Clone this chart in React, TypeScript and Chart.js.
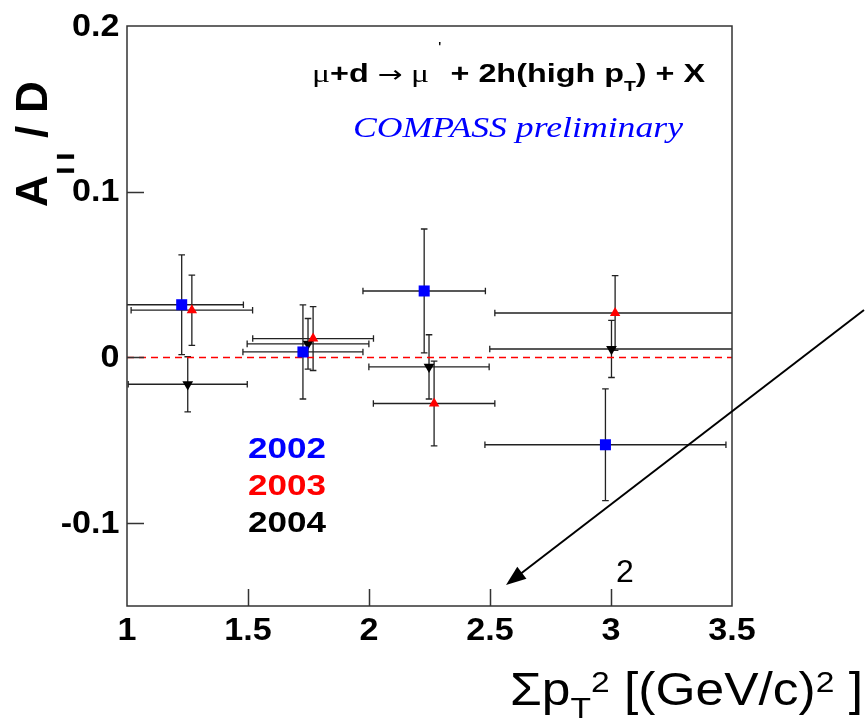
import React, { useEffect, useRef } from "react";
import { Chart, registerables } from "chart.js";

Chart.register(...registerables);

const SANS = '"Liberation Sans", Arial, Helvetica, sans-serif';
const SERIF = '"Liberation Serif", "Times New Roman", serif';

// axis ranges and ticks
const xMin = 1;
const xMax = 3.5;
const yMin = -0.15;
const yMax = 0.2;
const xTickValues = [1, 1.5, 2, 2.5, 3, 3.5];
const yTickValues = [-0.1, 0, 0.1, 0.2];

// 2002
const x2002 = [1.226, 1.727, 2.228, 2.977];
const y2002 = [0.0318, 0.0033, 0.0401, -0.0527];
const xErr2002 = [0.255, 0.248, 0.253, 0.498];
const yErr2002 = [0.0301, 0.0284, 0.0374, 0.0337];

// 2003
const x2003 = [1.268, 1.769, 2.269, 3.017];
const y2003 = [0.0285, 0.0114, -0.0278, 0.0268];
const xErr2003 = [0.251, 0.2495, 0.251, 0.497];
const yErr2003 = [0.0212, 0.0193, 0.0256, 0.0226];

// 2004
const x2004 = [1.251, 1.748, 2.248, 3.002];
const y2004 = [-0.0162, 0.0082, -0.0057, 0.0051];
const xErr2004 = [0.246, 0.2515, 0.2485, 0.503];
const yErr2004 = [0.0166, 0.0153, 0.0194, 0.0172];

const legendYears = ["2002", "2003", "2004"];
const zeroLine = [0];

const BLUE = "#0000ff";
const RED = "#ff0000";
const BLACK = "#000000";
const FRAME = "#333333";
const ERR = "#222222";

type Seg = { t: string; f: string; dy?: number };

function segWidth(ctx: CanvasRenderingContext2D, segs: Seg[]) {
  let w = 0;
  for (const s of segs) {
    ctx.font = s.f;
    w += ctx.measureText(s.t).width;
  }
  return w;
}

function drawSegs(
  ctx: CanvasRenderingContext2D,
  segs: Seg[],
  x: number,
  y: number,
  targetWidth: number,
  color: string
) {
  const w = segWidth(ctx, segs);
  const sx = targetWidth / w;
  ctx.save();
  ctx.translate(x, y);
  ctx.scale(sx, 1);
  ctx.fillStyle = color;
  ctx.textAlign = "left";
  ctx.textBaseline = "alphabetic";
  let cx = 0;
  for (const s of segs) {
    ctx.font = s.f;
    ctx.fillText(s.t, cx, s.dy || 0);
    cx += ctx.measureText(s.t).width;
  }
  ctx.restore();
}

function stretchedText(
  ctx: CanvasRenderingContext2D,
  text: string,
  x: number,
  y: number,
  font: string,
  color: string,
  align: CanvasTextAlign,
  sx: number
) {
  ctx.save();
  ctx.translate(x, y);
  ctx.scale(sx, 1);
  ctx.font = font;
  ctx.fillStyle = color;
  ctx.textAlign = align;
  ctx.textBaseline = "alphabetic";
  ctx.fillText(text, 0, 0);
  ctx.restore();
}

const seriesList = [
  { x: x2002, y: y2002, ex: xErr2002, ey: yErr2002 },
  { x: x2003, y: y2003, ex: xErr2003, ey: yErr2003 },
  { x: x2004, y: y2004, ex: xErr2004, ey: yErr2004 },
];

const overlayPlugin = {
  id: "overlay",
  beforeDatasetsDraw(chart: any) {
    const { ctx, chartArea: a } = chart;
    const xs = chart.scales.x;
    const ys = chart.scales.y;
    ctx.save();
    ctx.beginPath();
    ctx.rect(a.left, a.top, a.right - a.left, a.bottom - a.top);
    ctx.clip();
    ctx.strokeStyle = ERR;
    ctx.lineWidth = 1.3;
    const cap = 3.3;
    for (const s of seriesList) {
      for (let i = 0; i < s.x.length; i++) {
        const px = xs.getPixelForValue(s.x[i]);
        const py = ys.getPixelForValue(s.y[i]);
        const xl = xs.getPixelForValue(s.x[i] - s.ex[i]);
        const xr = xs.getPixelForValue(s.x[i] + s.ex[i]);
        const yt = ys.getPixelForValue(s.y[i] + s.ey[i]);
        const yb = ys.getPixelForValue(s.y[i] - s.ey[i]);
        ctx.beginPath();
        ctx.moveTo(xl, py);
        ctx.lineTo(xr, py);
        ctx.moveTo(xl, py - cap);
        ctx.lineTo(xl, py + cap);
        ctx.moveTo(xr, py - cap);
        ctx.lineTo(xr, py + cap);
        ctx.moveTo(px, yt);
        ctx.lineTo(px, yb);
        ctx.moveTo(px - cap, yt);
        ctx.lineTo(px + cap, yt);
        ctx.moveTo(px - cap, yb);
        ctx.lineTo(px + cap, yb);
        ctx.stroke();
      }
    }
    ctx.restore();
  },
  afterDraw(chart: any) {
    const { ctx, chartArea: a } = chart;
    const xs = chart.scales.x;
    const ys = chart.scales.y;
    ctx.save();

    // frame
    ctx.strokeStyle = FRAME;
    ctx.lineWidth = 1.5;
    ctx.strokeRect(a.left, a.top, a.right - a.left, a.bottom - a.top);

    // inward ticks
    ctx.beginPath();
    for (const v of yTickValues) {
      if (v <= yMin || v >= yMax) continue;
      const py = Math.round(ys.getPixelForValue(v)) + 0.5;
      ctx.moveTo(a.left, py);
      ctx.lineTo(a.left + 17, py);
    }
    for (const v of xTickValues) {
      if (v <= xMin || v >= xMax) continue;
      const px = Math.round(xs.getPixelForValue(v)) + 0.5;
      ctx.moveTo(px, a.bottom);
      ctx.lineTo(px, a.bottom - 17);
    }
    ctx.stroke();

    // tick labels
    const tickFont = `bold 31px ${SANS}`;
    for (const v of yTickValues) {
      const py = ys.getPixelForValue(v);
      stretchedText(ctx, String(v), a.left - 7.5, py + 9.6, tickFont, BLACK, "right", 1.1);
    }
    for (const v of xTickValues) {
      const px = xs.getPixelForValue(v);
      stretchedText(ctx, String(v), px, a.bottom + 33.5, tickFont, BLACK, "center", 1.1);
    }

    // y axis title (rotated)
    ctx.save();
    ctx.translate(47, 207);
    ctx.rotate(-Math.PI / 2);
    ctx.fillStyle = BLACK;
    ctx.strokeStyle = BLACK;
    ctx.textBaseline = "alphabetic";
    ctx.textAlign = "left";
    ctx.font = `bold 44px ${SANS}`;
    ctx.fillText("A", 0, 0);
    ctx.font = `bold 17px ${SANS}`;
    ctx.lineWidth = 2.2;
    ctx.fillText("|", 34, 23);
    ctx.strokeText("|", 34, 23);
    ctx.fillText("|", 48, 23);
    ctx.strokeText("|", 48, 23);
    ctx.font = `bold 44px ${SANS}`;
    ctx.fillText("/", 69, 0);
    ctx.fillText("D", 94, 0);
    ctx.restore();

    // x axis title
    drawSegs(
      ctx,
      [
        { t: "Σp", f: `46px ${SANS}` },
        { t: "T", f: `30px ${SANS}`, dy: 13 },
        { t: "2", f: `30px ${SANS}`, dy: -13 },
        { t: " [(GeV/c)", f: `46px ${SANS}` },
        { t: "2", f: `30px ${SANS}`, dy: -13 },
        { t: " ]", f: `46px ${SANS}` },
      ],
      510,
      705,
      353,
      BLACK
    );

    // reaction formula
    drawSegs(
      ctx,
      [
        { t: "μ", f: `26px ${SERIF}` },
        { t: "+d ", f: `bold 25px ${SANS}` },
        { t: "→", f: `23px "DejaVu Sans", ${SANS}` },
        { t: " μ", f: `26px ${SERIF}` },
        { t: " ", f: `bold 25px ${SANS}` },
        { t: "'", f: `14px ${SANS}`, dy: -30 },
        { t: " + 2h(high p", f: `bold 25px ${SANS}` },
        { t: "T", f: `bold 15px ${SANS}`, dy: 9 },
        { t: ") + X", f: `bold 25px ${SANS}` },
      ],
      312,
      81.5,
      393,
      BLACK
    );

    // COMPASS preliminary
    drawSegs(
      ctx,
      [{ t: "COMPASS preliminary", f: `italic 30px ${SERIF}` }],
      353,
      136.5,
      330,
      BLUE
    );

    // legend years
    const legendColors = [BLUE, RED, BLACK];
    const legendBase = [458.3, 495, 531.7];
    legendYears.forEach((yr, i) => {
      drawSegs(ctx, [{ t: yr, f: `bold 30px ${SANS}` }], 248, legendBase[i], 78, legendColors[i]);
    });

    // "2" label
    ctx.font = `32px ${SANS}`;
    ctx.fillStyle = BLACK;
    ctx.textAlign = "left";
    ctx.fillText("2", 616, 582);

    // arrow
    const x0 = 864, y0 = 310, x1 = 506, y1 = 585;
    const ang = Math.atan2(y1 - y0, x1 - x0);
    const hl = 20, hw = 7.5;
    ctx.strokeStyle = BLACK;
    ctx.lineWidth = 2;
    ctx.beginPath();
    ctx.moveTo(x0, y0);
    ctx.lineTo(x1 - Math.cos(ang) * hl * 0.8, y1 - Math.sin(ang) * hl * 0.8);
    ctx.stroke();
    ctx.fillStyle = BLACK;
    ctx.beginPath();
    ctx.moveTo(x1, y1);
    const bx = x1 - Math.cos(ang) * hl;
    const by = y1 - Math.sin(ang) * hl;
    ctx.lineTo(bx + Math.sin(ang) * hw, by - Math.cos(ang) * hw);
    ctx.lineTo(bx - Math.sin(ang) * hw, by + Math.cos(ang) * hw);
    ctx.closePath();
    ctx.fill();

    ctx.restore();
  },
};

function toPoints(xs: number[], ys: number[]) {
  return xs.map((x, i) => ({ x, y: ys[i] }));
}

export default function App() {
  const ref = useRef<HTMLCanvasElement | null>(null);

  useEffect(() => {
    if (!ref.current) return;
    const chart = new Chart(ref.current, {
      type: "scatter",
      data: {
        datasets: [
          {
            label: "2002",
            data: toPoints(x2002, y2002),
            pointStyle: "rect",
            pointRadius: 7.8,
            backgroundColor: BLUE,
            borderColor: BLUE,
            borderWidth: 0,
            order: 1,
          },
          {
            label: "2003",
            data: toPoints(x2003, y2003),
            pointStyle: "triangle",
            pointRadius: 6,
            backgroundColor: RED,
            borderColor: RED,
            borderWidth: 0,
            order: 1,
          },
          {
            label: "2004",
            data: toPoints(x2004, y2004),
            pointStyle: "triangle",
            rotation: 180,
            pointRadius: 6.2,
            backgroundColor: BLACK,
            borderColor: BLACK,
            borderWidth: 0,
            order: 1,
          },
          {
            type: "line",
            label: "zero",
            data: [
              { x: xMin, y: zeroLine[0] },
              { x: xMax, y: zeroLine[0] },
            ],
            borderColor: RED,
            borderWidth: 1.6,
            borderDash: [7, 5],
            pointRadius: 0,
            fill: false,
            order: 10,
          } as any,
        ],
      },
      options: {
        responsive: false,
        animation: false,
        devicePixelRatio: 1,
        events: [],
        layout: { padding: { left: 0, top: 26, right: 136, bottom: 0 } },
        plugins: {
          legend: { display: false },
          tooltip: { enabled: false },
        },
        scales: {
          x: {
            type: "linear",
            min: xMin,
            max: xMax,
            grid: { display: false, drawTicks: false },
            border: { display: false },
            ticks: { display: false },
            afterBuildTicks: (s: any) => {
              s.ticks = xTickValues.map((v) => ({ value: v }));
            },
            afterFit: (s: any) => {
              s.height = 114;
            },
          },
          y: {
            type: "linear",
            min: yMin,
            max: yMax,
            grid: { display: false, drawTicks: false },
            border: { display: false },
            ticks: { display: false },
            afterBuildTicks: (s: any) => {
              s.ticks = yTickValues.map((v) => ({ value: v }));
            },
            afterFit: (s: any) => {
              s.width = 127;
            },
          },
        },
      },
      plugins: [overlayPlugin],
    });
    return () => chart.destroy();
  }, []);

  return (
    <div style={{ position: "absolute", left: 0, top: 0, width: 868, height: 720, background: "#fff" }}>
      <canvas ref={ref} width={868} height={720} style={{ display: "block" }} />
    </div>
  );
}
